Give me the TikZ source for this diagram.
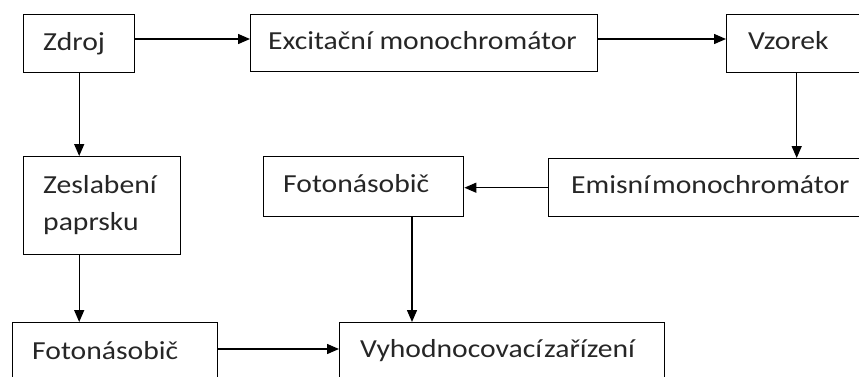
\documentclass[tikz,border=0pt]{standalone}
\usepackage{fontspec}
\setmainfont{Carlito}[FakeStretch=1.14]
\usetikzlibrary{arrows.meta,calc}
\begin{document}
\begin{tikzpicture}[x=1pt,y=-1pt,
  box/.style={draw=black,line width=1.4pt,anchor=north west,inner sep=0pt},
  lbl/.style={anchor=base west,inner sep=0pt,font=\fontsize{26}{37}\selectfont,text=black!85},
  arr/.style={draw=black,line width=1.4pt,-{Triangle[length=12pt,width=10pt]}}]
\clip (0,0) rectangle (859,376);
% boxes
\node[box,minimum width=111pt,minimum height=58pt] (zdroj) at (23,14) {};
\node[box,minimum width=347pt,minimum height=57pt] (exc) at (250,14) {};
\node[box,minimum width=140pt,minimum height=58pt] (vzorek) at (726,14) {};
\node[box,minimum width=157pt,minimum height=98pt] (zes) at (23,156) {};
\node[box,minimum width=200pt,minimum height=60pt] (fot2) at (263,156) {};
\node[box,minimum width=330pt,minimum height=58pt] (emis) at (548,158) {};
\node[box,minimum width=205pt,minimum height=70pt] (fot1) at (12,322) {};
\node[box,minimum width=325pt,minimum height=70pt] (vyh) at (339,322) {};
% labels
\node[lbl] (tzdroj) at (43,50) {Zdroj};
\node[lbl] (texc) at (268,49) {Excitační monochromátor};
\node[lbl] (tvzorek) at (748,49) {Vzorek};
\node[lbl] (tzes) at (43,193) {Zeslabení};
\node[lbl] (tzes2) at (43,230) {paprsku};
\node[lbl] (tfot2) at (283,192) {Fotonásobič};
\node[lbl] (temis) at (571,193) {Emisní\hspace{0.08em}monochromátor};
\node[lbl] (tfot1) at (32,359) {Fotonásobič};
\node[lbl] (tvyh) at (360,357) {Vyhodnocovací\hspace{0.08em}zařízení};
% connectors
\coordinate (c1) at (0,39);
\coordinate (c2) at (412,0);
\coordinate (c3) at (0,349);
\draw[arr] (zdroj.east |- c1) -- (exc.west |- c1);
\draw[arr] (exc.east |- c1) -- (vzorek.west |- c1);
\draw[arr] (zdroj.south) -- (zdroj.south |- zes.north);
\draw[arr] (zdroj.south |- zes.south) -- (zdroj.south |- fot1.north);
\draw[arr] (vzorek.south) -- (vzorek.south |- emis.north);
\draw[arr] (emis.west) -- (fot2.east |- emis.west);
\draw[arr] (c2 |- fot2.south) -- (c2 |- vyh.north);
\draw[arr] (fot1.east |- c3) -- (vyh.west |- c3);
\end{tikzpicture}
\end{document}
